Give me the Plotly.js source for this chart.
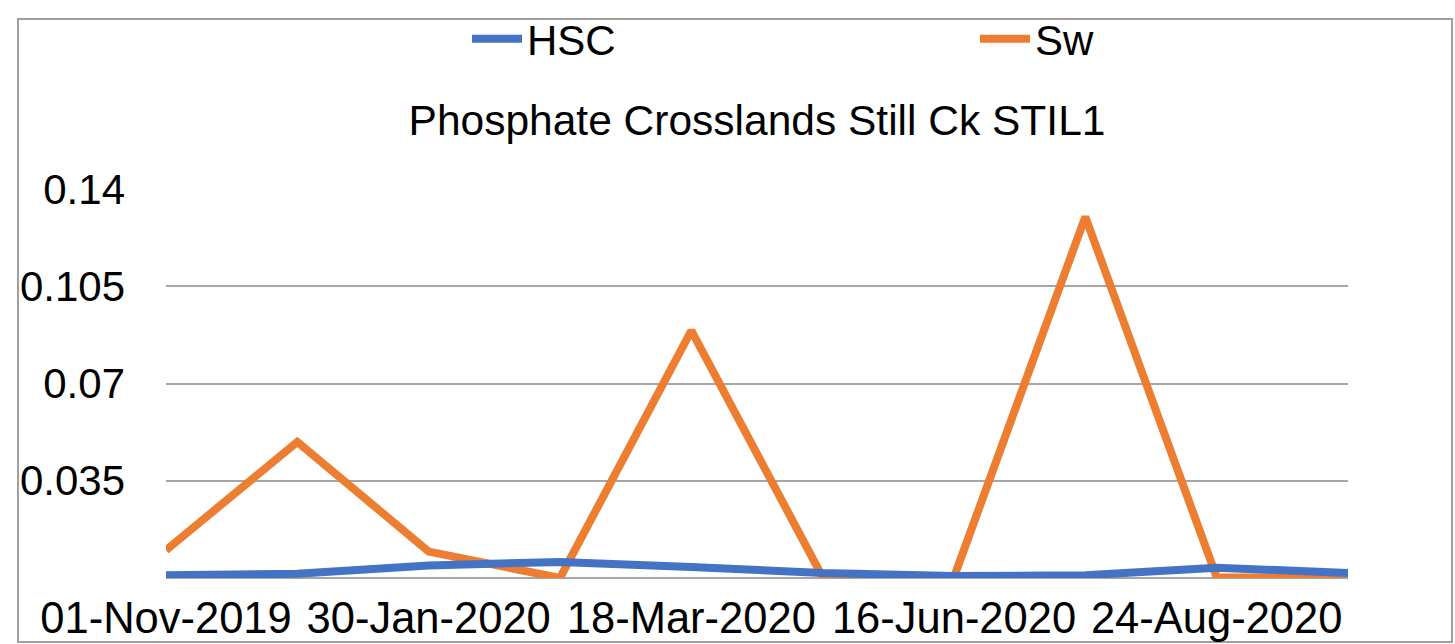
<!DOCTYPE html>
<html>
<head>
<meta charset="utf-8">
<script src="https://cdn.plot.ly/plotly-3.0.1.min.js"></script>
<style>html,body{margin:0;padding:0;background:#fff;}#chart{width:1455px;height:644px;}</style>
</head>
<body>
<div id="chart"></div>
<script>
// Sample dates (category axis); only every other one is labelled in the source
const dates = ["01-Nov-2019", "12-Dec-2019", "30-Jan-2020", "20-Feb-2020", "18-Mar-2020",
               "19-May-2020", "16-Jun-2020", "21-Jul-2020", "24-Aug-2020", "22-Sep-2020"];
const labelledDates = ["01-Nov-2019", "30-Jan-2020", "18-Mar-2020", "16-Jun-2020", "24-Aug-2020"];
const hscValues = [0.001, 0.0015, 0.0045, 0.0058, 0.004, 0.0018, 0.0007, 0.001, 0.0037, 0.0018];
const swValues  = [0.010, 0.049, 0.0095, 0.0, 0.089, 0.0003, 0.0003, 0.130, 0.0003, 0.0];
const yTickVals = [0.035, 0.07, 0.105, 0.14];
const yTickText = ["0.035", "0.07", "0.105", "0.14"];

const FONT = '"Liberation Sans", Arial, Helvetica, sans-serif';

const L = 166, R = 1348, T = 189, B = 578, W = 1455, H = 644;
const px2x = p => (p - L) / (R - L);
const px2y = p => (B - p) / (B - T);

const traces = [
  {
    x: dates, y: swValues, name: "Sw", type: "scatter", mode: "lines",
    line: {color: "#ED7D31", width: 8}, legend: "legend2"
  },
  {
    x: dates, y: hscValues, name: "HSC", type: "scatter", mode: "lines",
    line: {color: "#4472C4", width: 8}, legend: "legend"
  }
];

const legendBase = {
  orientation: "h", xanchor: "left",
  yref: "container", y: 1 - 39 / H, yanchor: "middle",
  font: {family: FONT, size: 42, color: "#000000"},
  bgcolor: "rgba(0,0,0,0)", borderwidth: 0, itemwidth: 50
};

const layout = {
  width: W, height: H,
  margin: {l: L, r: W - R, t: T, b: H - B, pad: 0},
  paper_bgcolor: "#ffffff", plot_bgcolor: "#ffffff",
  font: {family: FONT, color: "#000000", size: 40},
  title: {
    text: "Phosphate Crosslands Still Ck STIL1",
    font: {family: FONT, size: 42.5, color: "#000000"},
    xref: "paper", x: 0.5, xanchor: "center",
    yref: "container", y: 1 - 120 / H, yanchor: "middle"
  },
  showlegend: true,
  legend: Object.assign({}, legendBase, {xref: "paper", x: px2x(467)}),
  legend2: Object.assign({}, legendBase, {xref: "paper", x: px2x(975)}),
  xaxis: {
    type: "category",
    categoryorder: "array", categoryarray: dates,
    range: [0, dates.length - 1],
    tickmode: "array", tickvals: labelledDates, ticktext: labelledDates,
    tickfont: {family: FONT, size: 43.5, color: "#000000"},
    showgrid: false, zeroline: false, showline: false, ticks: "",
    ticklabelstandoff: 10,
    fixedrange: true
  },
  yaxis: {
    range: [0, 0.14],
    tickmode: "array", tickvals: yTickVals, ticktext: yTickText,
    tickfont: {family: FONT, size: 42, color: "#000000"},
    showgrid: true, gridcolor: "#a6a6a6", gridwidth: 2,
    zeroline: true, zerolinecolor: "#a6a6a6", zerolinewidth: 2,
    showline: false, ticks: "", ticklabelstandoff: 40,
    fixedrange: true
  },
  shapes: [
    {
      type: "rect", xref: "paper", yref: "paper",
      x0: px2x(18), x1: px2x(1452), y0: px2y(642), y1: px2y(19),
      line: {color: "#a0a0a0", width: 2}, fillcolor: "rgba(0,0,0,0)", layer: "below"
    }
  ]
};

Plotly.newPlot("chart", traces, layout, {displayModeBar: false, staticPlot: true});
</script>
</body>
</html>
